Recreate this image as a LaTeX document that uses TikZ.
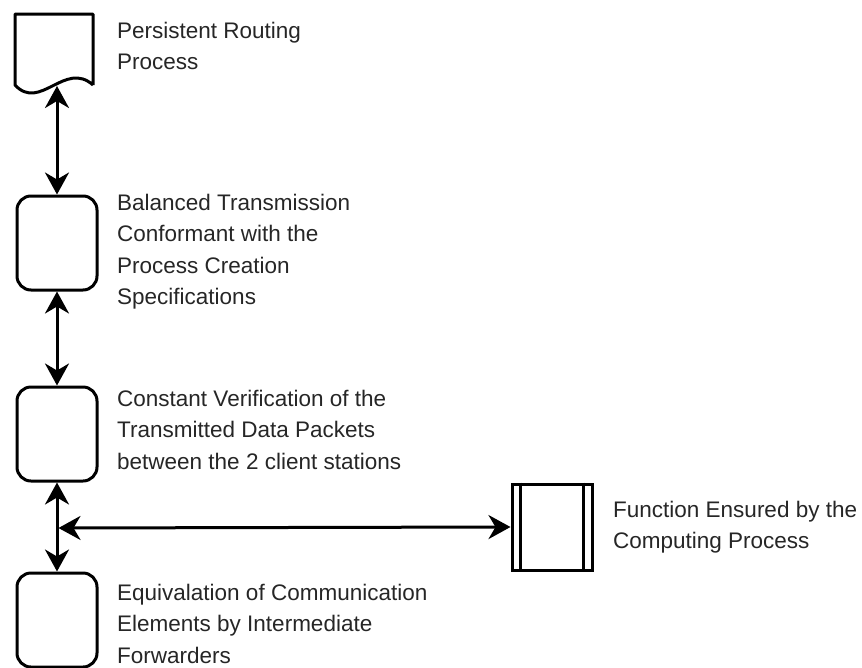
\documentclass[tikz,border=0pt]{standalone}
\usepackage{fontspec}
\setmainfont{Liberation Sans}
\usetikzlibrary{arrows.meta, positioning}

\begin{document}
\begin{tikzpicture}[x=1pt, y=-1pt,
        stepbox/.style={draw, line width=3pt, rounded corners=14pt, minimum width=80pt, minimum height=94pt},
        funcbox/.style={draw, line width=3pt, minimum width=80pt, minimum height=86pt},
        link/.style={line width=3pt, {Stealth[length=22pt,width=24pt,inset=7pt]}-{Stealth[length=22pt,width=24pt,inset=7pt]}},
        note/.style={anchor=north west, align=left, inner sep=0pt, font=\fontsize{22.5}{31.5}\selectfont, text=black!85}]
        \useasboundingbox (0,0) rectangle (862,667);

        % The routing process as a document
        \draw[line width=3pt, line join=round] (93,85) -- (93,14) -- (15,14) -- (15,85)
            .. controls (40,112) and (65,60) .. (93,85);
        \coordinate (route) at (57,86);

        % Steps of the chain
        \node[stepbox] (balance) at (57,243) {};
        \node[stepbox] (verify) at (57,434) {};
        \node[stepbox] (equiv) at (57,620) {};

        % The computing function
        \node[funcbox] (func) at (552,527) {};
        \draw[line width=3pt] ([xshift=10pt]func.north west) -- ([xshift=10pt]func.south west);
        \draw[line width=3pt] ([xshift=-10pt]func.north east) -- ([xshift=-10pt]func.south east);

        % Connectors
        \draw[link] (route) -- (balance.north);
        \draw[link] (balance.south) -- (verify.north);
        \draw[link] (verify.south) -- (equiv.north);
        \coordinate (hub) at (58.5,528);
        \draw[link] (hub) -- (func.west);

        % Annotations
        \node[note] (route-txt) at (117,21.5) {Persistent Routing\\Process};
        \node[note] (balance-txt) at (117,193.5) {Balanced Transmission\\Conformant with the\\Process Creation\\Specifications};
        \node[note] (verify-txt) at (117,389.5) {Constant Verification of the\\Transmitted Data Packets\\between the 2 client stations};
        \node[note] (equiv-txt) at (117,583.5) {Equivalation of Communication\\Elements by Intermediate\\Forwarders};
        \node[note] (func-txt) at (613,500.5) {Function Ensured by the\\Computing Process};
    \end{tikzpicture}
\end{document}
